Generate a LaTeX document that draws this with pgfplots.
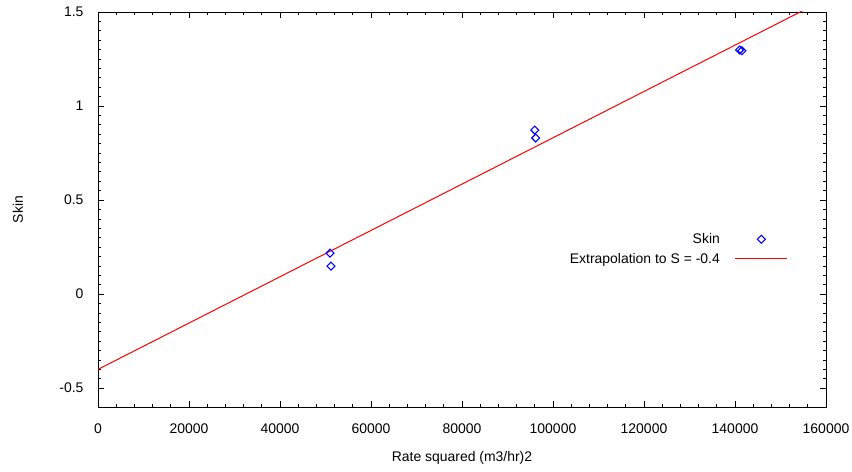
\documentclass[border=0pt]{standalone}
\usepackage{pgfplots}
\pgfplotsset{compat=1.18}
\usepackage{fontspec}
\setmainfont{Liberation Sans}
\begin{document}
\begin{tikzpicture}
\begin{axis}[
  scale only axis,
  width=728bp, height=395bp,
  xmin=0, xmax=160000, ymin=-0.6, ymax=1.5,
  scaled x ticks=false,
  scaled y ticks=false,
  xtick={0,20000,40000,60000,80000,100000,120000,140000,160000},
  xticklabels={0,20000,40000,60000,80000,100000,120000,140000,160000},
  ytick={-0.5,0,0.5,1,1.5},
  yticklabels={-0.5,0,0.5,1,1.5},
  minor x tick num=4,
  minor y tick num=9,
  tick align=inside,
  major tick length=6bp,
  minor tick length=3bp,
  tick style={black, line width=0.8bp},
  axis line style={black, line width=0.9bp},
  ticklabel style={font=\fontsize{14}{16}\selectfont},
  label style={font=\fontsize{14}{16}\selectfont},
  xticklabel style={yshift=-13bp},
  yticklabel style={xshift=-11bp},
  xlabel={Rate squared (m3/hr)2},
  ylabel={Skin},
  xlabel style={at={(axis description cs:0.5,-0.129)}, anchor=center},
  ylabel style={at={(axis description cs:-0.1099,0.5)}, anchor=center},
  legend style={draw=none, fill=none, at={(0.952,0.45)}, anchor=north east,
    font=\fontsize{14}{16}\selectfont, row sep=4bp,
    /tikz/every odd column/.append style={column sep=13bp}},
  legend cell align=right,
  legend plot pos=right,
  legend image code/.code={\draw[mark repeat=2,mark phase=2,#1] plot coordinates {(0bp,0bp) (26bp,0bp) (52bp,0bp)};},
  clip=true,
]
\addplot[only marks, mark=square, mark size=2.8bp, blue, mark options={line width=1.1bp, rotate=45}]
 coordinates {(51000,0.218) (51200,0.149) (96000,0.872) (96200,0.830) (141000,1.298) (141500,1.294)};
\addlegendentry{Skin}
\addplot[red, line width=1bp] coordinates {(0,-0.4) (160000,1.57)};
\addlegendentry{Extrapolation to S = -0.4}
\end{axis}
\pgfresetboundingbox
\useasboundingbox (-98bp,-65bp) rectangle (754bp,407bp);
\end{tikzpicture}
\end{document}
